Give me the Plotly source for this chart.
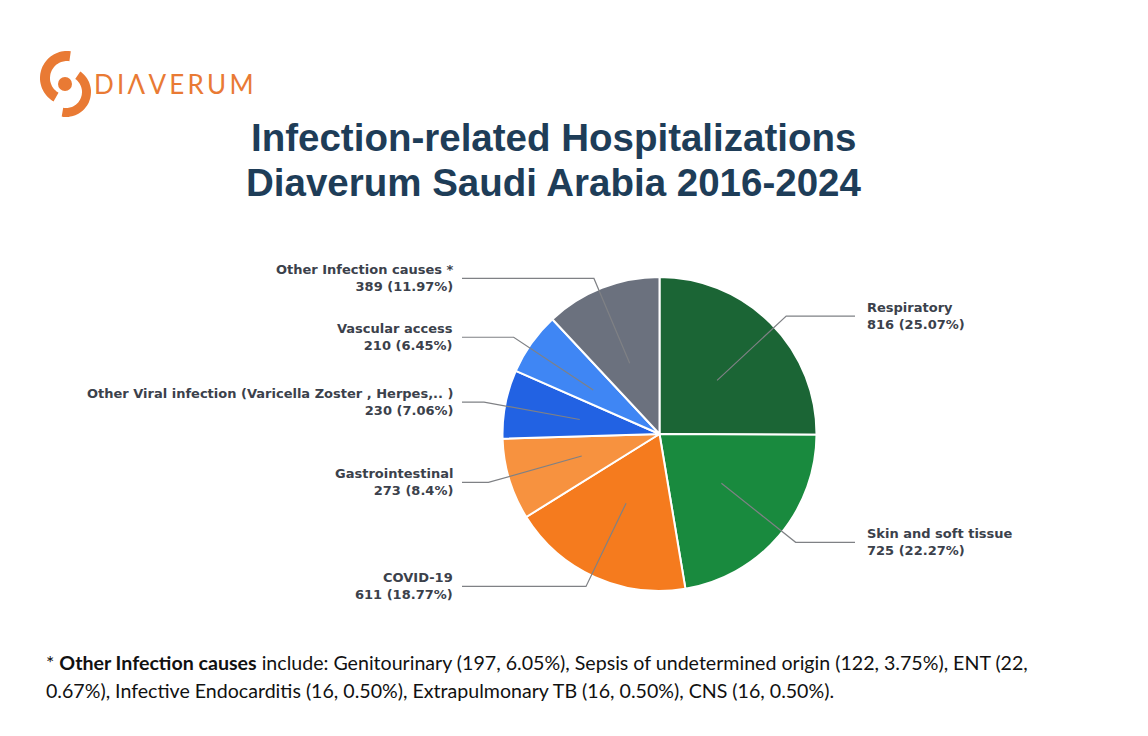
import numpy as np
import plotly.graph_objects as go

W, H = 1148, 736

# ---------------- data ----------------
categories = ["Respiratory", "Skin and soft tissue", "COVID-19", "Gastrointestinal",
              "Other Viral infection (Varicella Zoster , Herpes,.. )", "Vascular access",
              "Other Infection causes *"]
counts = [816, 725, 611, 273, 230, 210, 389]
pct_labels = ["25.07%", "22.27%", "18.77%", "8.4%", "7.06%", "6.45%", "11.97%"]
colors = ["#1b6535", "#198a3e", "#f57b1e", "#f7923f", "#2262e3", "#3f86f4", "#6b717e"]

title_lines = ["Infection-related Hospitalizations", "Diaverum Saudi Arabia 2016-2024"]
foot_line1 = ("* <b>Other Infection causes</b> include: Genitourinary (197, 6.05%), "
              "Sepsis of undetermined origin (122, 3.75%), ENT (22,")
foot_line2 = ("0.67%), Infective Endocarditis (16, 0.50%), Extrapulmonary TB (16, 0.50%), "
              "CNS (16, 0.50%).")

# ---------------- layout constants ----------------
cx, cy = 659.5, 434.0        # pie centre (px)
R = 157.0                    # pie radius (px)
rx, ry = 162.5, 152.0        # leader-line geometry
left_line_x, right_line_x = 462, 855
lead_col = "#7f8185"
label_col = "#3b414b"

fig = go.Figure()

fig.add_trace(go.Pie(
    labels=categories, values=counts, sort=False, direction="clockwise", rotation=0,
    marker=dict(colors=colors, line=dict(color="white", width=2)),
    textinfo="none", hoverinfo="label+value+percent", showlegend=False,
    domain=dict(x=[(cx - R) / W, (cx + R) / W], y=[(H - cy - R) / H, (H - cy + R) / H]),
))

# invisible scatter so the pixel-space axes exist
fig.add_trace(go.Scatter(x=[0, W], y=[0, H], mode="markers", marker=dict(opacity=0),
                         hoverinfo="skip", showlegend=False))

shapes = []
annotations = []

# leader lines and labels
total = float(sum(counts))
cum = 0.0
for name, v, p in zip(categories, counts, pct_labels):
    mid = (cum + v / 2) / total * 2 * np.pi   # clockwise from 12 o'clock
    cum += v
    sx, sy = np.sin(mid), -np.cos(mid)
    x0, y0 = cx + 0.5 * rx * sx, cy + 0.5 * ry * sy
    x1, y1 = cx + 1.1 * rx * sx, cy + 1.1 * ry * sy
    right = sx > 0
    x2 = right_line_x if right else left_line_x
    shapes.append(dict(type="path", xref="x", yref="y", layer="above",
                       path=f"M{x0},{y0} L{x1},{y1} L{x2},{y1}",
                       line=dict(color=lead_col, width=1.2)))
    annotations.append(dict(
        x=x2 + (10 if right else -7), y=y1, xref="x", yref="y",
        xanchor="left" if right else "right", yanchor="middle",
        align="left" if right else "right",
        text=f"<b>{name}</b><br><b>{v} ({p})</b>", showarrow=False,
        font=dict(family="DejaVu Sans, Verdana", size=13, color=label_col)))

# title
for i, t in enumerate(title_lines):
    annotations.append(dict(x=553, y=137 + 45 * i, xref="x", yref="y", xanchor="center",
                            yanchor="middle", text=f"<b>{t}</b>", showarrow=False,
                            font=dict(family="Liberation Sans, Arial", size=38.5, color="#1e3d58")))

# footnote
for i, t in enumerate([foot_line1, foot_line2]):
    annotations.append(dict(x=44, y=662 + 28 * i, xref="x", yref="y", xanchor="left",
                            yanchor="middle", text=t, showarrow=False,
                            font=dict(family="Lato, Open Sans", size=19.6, color="#111111")))

# logo
logo_col = "#e97a34"


def arc_path(xc, yc, r_out, r_in, a0, a1, n=40):
    a = np.radians(np.linspace(a0, a1, n))
    ox, oy = xc + r_out * np.cos(a), yc - r_out * np.sin(a)
    ix, iy = xc + r_in * np.cos(a[::-1]), yc - r_in * np.sin(a[::-1])
    pts = [f"{x:.1f},{y:.1f}" for x, y in zip(np.r_[ox, ix], np.r_[oy, iy])]
    return "M" + " L".join(pts) + " Z"


shapes.append(dict(type="path", xref="x", yref="y", path=arc_path(67, 78, 27, 17, 82, 240),
                   fillcolor=logo_col, line=dict(width=0)))
shapes.append(dict(type="path", xref="x", yref="y", path=arc_path(66, 92, 25, 16, 55, -100),
                   fillcolor=logo_col, line=dict(width=0)))
shapes.append(dict(type="circle", xref="x", yref="y", x0=58, x1=72, y0=77, y1=91,
                   fillcolor=logo_col, line=dict(width=0)))
annotations.append(dict(x=92, y=84, xref="x", yref="y", xanchor="left", yanchor="middle",
                        text="\u2009".join("DI\u039bVERUM"), showarrow=False,
                        font=dict(family="Lato, Open Sans", size=26, color=logo_col)))

fig.update_layout(
    width=W, height=H, margin=dict(l=0, r=0, t=0, b=0),
    paper_bgcolor="white", plot_bgcolor="white",
    xaxis=dict(range=[0, W], visible=False, fixedrange=True, domain=[0, 1]),
    yaxis=dict(range=[H, 0], visible=False, fixedrange=True, domain=[0, 1]),
    shapes=shapes, annotations=annotations,
)

fig.write_html("out.html")
